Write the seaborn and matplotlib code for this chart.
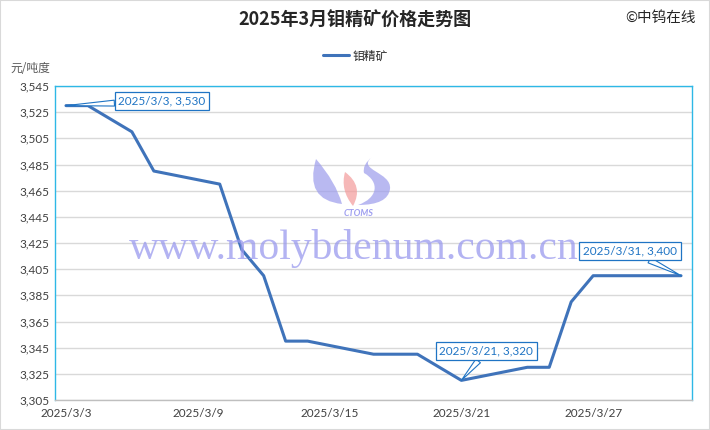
import matplotlib
matplotlib.use("Agg")
import matplotlib.pyplot as plt
import seaborn as sns
import pandas as pd
import numpy as np
from matplotlib.path import Path
from matplotlib.patches import PathPatch, Rectangle
from matplotlib.ticker import FuncFormatter

# data
dates = ["2025/3/3", "2025/3/4", "2025/3/6", "2025/3/7", "2025/3/10", "2025/3/11",
         "2025/3/12", "2025/3/13", "2025/3/14", "2025/3/17", "2025/3/18", "2025/3/19",
         "2025/3/21", "2025/3/24", "2025/3/25", "2025/3/26", "2025/3/27", "2025/3/28",
         "2025/3/31"]
prices = [3530, 3530, 3510, 3480, 3470, 3420, 3400, 3350, 3350, 3340, 3340, 3340,
          3320, 3330, 3330, 3380, 3400, 3400, 3400]
tick_labels = ["2025/3/3", "2025/3/9", "2025/3/15", "2025/3/21", "2025/3/27"]
callouts = ["2025/3/3", "2025/3/21", "2025/3/31"]

df = pd.DataFrame({"date": pd.to_datetime(dates), "price": prices})
start = df["date"].min()
df["day"] = (df["date"] - start).dt.days
n_days = 29

sns.set_style("white")
plt.rcParams["font.family"] = ["Lato", "Noto Sans CJK SC", "DejaVu Sans"]

W, H = 710, 430
fig = plt.figure(figsize=(W / 100, H / 100), dpi=100)
ax = fig.add_axes([55 / W, 1 - 400 / H, (692 - 55) / W, (400 - 86) / H])

line_c = "#3F73BA"
cyan = "#2EB8E6"
blue_txt = "#1F74C4"

def fx(px):
    return px / W

def fy(py):
    return 1 - py / H

# watermark text
fig.text(fx(354), fy(249), "www.molybdenum.com.cn", family="Liberation Serif",
         fontsize=30, color="#9A9AEE", alpha=0.75, ha="center", va="center", zorder=0)

# CTOMS logo (rough)
def flame(pts, codes, color):
    verts = [(fx(x), fy(y)) for x, y in pts]
    fig.patches.append(PathPatch(Path(verts, codes), transform=fig.transFigure,
                                 fc=color, ec="none", alpha=0.7, zorder=0))

C3, C4, M, CL = Path.CURVE3, Path.CURVE4, Path.MOVETO, Path.CLOSEPOLY
flame([(316, 159), (304, 200), (342, 204), (336, 182), (316, 159), (316, 159)],
      [M, C3, C3, C3, C3, CL], "#9C9CEC")
flame([(345, 172), (364, 186), (353, 206), (340, 190), (345, 172), (345, 172)],
      [M, C3, C3, C3, C3, CL], "#F39A9A")
flame([(372, 157), (356, 170), (392, 172), (390, 189), (388, 205), (358, 205),
       (378, 198), (380, 182), (364, 173), (362, 165), (372, 157), (372, 157)],
      [M, C4, C4, C4, C3, C3, C4, C4, C4, C3, C3, CL], "#9C9CEC")
fig.text(fx(359), fy(213), "CTOMS", fontsize=6.5, fontweight="bold", style="italic",
         color="#A0A0F0", ha="center", va="center", zorder=0)

sns.lineplot(data=df, x="day", y="price", ax=ax, color=line_c, linewidth=2.2,
             label="钼精矿", zorder=3)

ax.set_xlim(-0.5, n_days - 0.5)
ax.set_ylim(3305, 3545)
ax.set_yticks(np.arange(3305, 3546, 20))
ax.yaxis.set_major_formatter(FuncFormatter(lambda v, p: f"{int(v):,}"))
label_days = [(pd.to_datetime(t) - start).days for t in tick_labels]
ax.set_xticks(label_days)
ax.set_xticklabels(tick_labels)
ax.set_xticks([d - 0.5 for d in label_days], minor=True)
ax.tick_params(axis="x", which="major", length=0, labelsize=8.5, colors="#404040", pad=6)
ax.tick_params(axis="x", which="minor", length=4, width=0.8, color="#BFBFBF", direction="out")
ax.tick_params(axis="y", length=0, labelsize=8.5, colors="#404040", pad=4)
ax.set_xlabel("")
ax.set_ylabel("")
ax.grid(axis="y", color="#D9D9D9", linewidth=1)
ax.set_facecolor("none")
for s in ["left", "top", "right"]:
    ax.spines[s].set_color(cyan)
    ax.spines[s].set_linewidth(1)
ax.spines["bottom"].set_color("#BFBFBF")
ax.spines["bottom"].set_linewidth(1)

# callouts
offsets = {"2025/3/3": (96, 5), "2025/3/21": (25, 29), "2025/3/31": (-51, 25)}
for d in callouts:
    row = df[df["date"] == pd.to_datetime(d)].iloc[0]
    ax.annotate(f"{d}, {row['price']:,}", xy=(row["day"], row["price"]),
                xytext=offsets[d], textcoords="offset pixels", ha="center", va="center",
                fontsize=8.5, color=blue_txt, zorder=5,
                bbox=dict(boxstyle="square,pad=0.3", fc="white", ec=blue_txt, lw=0.9),
                arrowprops=dict(arrowstyle="wedge,tail_width=0.5", fc="white", ec=blue_txt,
                                lw=0.8, shrinkA=0, shrinkB=0))

ax.legend(loc="center", bbox_to_anchor=(fx(355), fy(56)), bbox_transform=fig.transFigure,
          frameon=False, fontsize=8.5, handlelength=2.2, handletextpad=0.3)

fig.text(fx(355), fy(20), "2025年3月钼精矿价格走势图", fontsize=13, fontweight="bold",
         ha="center", va="center", family=["Noto Sans CJK SC", "DejaVu Sans"])
fig.text(fx(660), fy(18), "©中钨在线", fontsize=10.5, ha="center", va="center",
         family=["Noto Sans CJK SC", "DejaVu Sans"])
fig.text(fx(10), fy(68), "元/吨度", fontsize=8.5, color="#595959", ha="left", va="center",
         family=["Noto Sans CJK SC", "DejaVu Sans"])

fig.patches.append(Rectangle((0, 0), 1, 1, transform=fig.transFigure, fill=False,
                             ec="#D9D9D9", lw=1.5))

fig.savefig("out.png", dpi=100)
